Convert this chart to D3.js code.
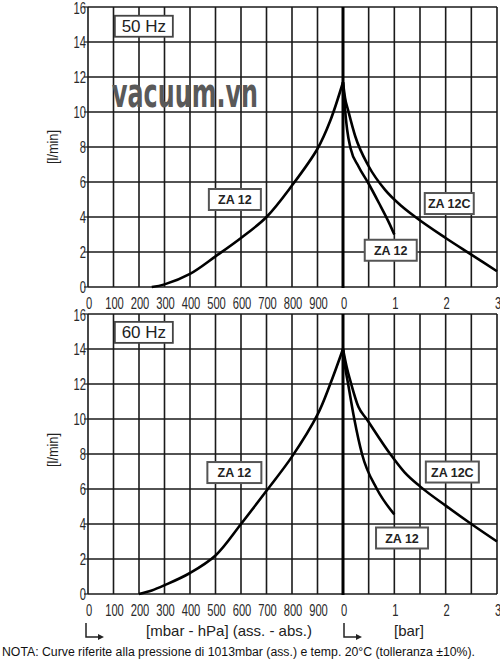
<!DOCTYPE html>
<html><head><meta charset="utf-8">
<script src="https://cdn.jsdelivr.net/npm/d3@7"></script>
<style>body{margin:0;background:#fff}svg{display:block}</style>
</head><body><svg id="c" width="500" height="660"></svg>
<script>
// ---------- data ----------
const vacTicks = [0,100,200,300,400,500,600,700,800,900];
const vacGrid  = [100,200,300,400,500,600,700,800,900];
const barTicks = [0,1,2,3];
const barGrid  = [0.5,1,1.5,2,2.5,3];
const yTicks   = [0,2,4,6,8,10,12,14,16];
const freqLabels = ["50 Hz","60 Hz"];
const seriesNames = ["ZA 12","ZA 12C"];

// 50 Hz : vacuum side [mbar abs, l/min], pressure side [bar, l/min]
const za12Vac50  = [[250,0],[300,0.15],[400,0.75],[500,1.75],[600,2.8],[700,4.0],[800,5.8],[900,7.9],[950,9.5],[1000,11.7]];
const za12Pres50 = [[0,11.7],[0.03,10.5],[0.08,9.0],[0.15,7.9],[0.3,6.9],[0.5,5.9],[0.7,4.8],[0.9,3.65],[1,3.0]];
const za12cPres50= [[0,11.7],[0.04,10.8],[0.1,10.1],[0.24,8.6],[0.5,6.9],[0.82,5.55],[1.15,4.6],[1.41,4.0],[2,2.8],[2.5,1.85],[3,0.9]];
// 60 Hz
const za12Vac60  = [[200,0],[250,0.2],[300,0.5],[400,1.2],[500,2.2],[600,4.0],[700,5.9],[800,7.85],[900,10.25],[950,12.0],[1000,14.0]];
const za12Pres60 = [[0,14],[0.04,13],[0.1,12],[0.22,10],[0.37,8],[0.66,6],[1,4.55]];
const za12cPres60= [[0,14],[0.07,13],[0.16,12],[0.3,10.7],[0.46,10],[0.92,8],[1.2,6.95],[1.5,6.15],[2,5.05],[2.5,4.0],[3,3.0]];

const xAxisTitle = "[mbar - hPa] (ass. - abs.)";
const barTitle = "[bar]";
const yTitle = "[l/min]";
const note = "NOTA:  Curve riferite alla pressione di 1013mbar (ass.) e temp. 20°C (tolleranza ±10%).";
const watermark = "vacuum.vn";

// ---------- layout ----------
const svg = d3.select("#c");
const L = 88, M = 343, R = 497;
const xVac = d3.scaleLinear().domain([0,1000]).range([L,M]);
const xBar = d3.scaleLinear().domain([0,3]).range([M,R]);
const sans = "'Liberation Sans',Arial,sans-serif";

function narrowText(g, x, y, txt, anchor, size, rot){
  return g.append("text")
    .attr("transform",`translate(${x},${y}) rotate(${rot||0}) scale(0.7,1)`)
    .attr("dy","0.36em").attr("text-anchor",anchor)
    .attr("font-family",sans).attr("font-size",size).attr("fill","#2a2a2a").text(txt);
}

const panels = [
  {top:7, bottom:287, freq:freqLabels[0], vac:za12Vac50, pres:[za12Pres50, za12cPres50],
   hz:[219,14.9], lab:[{t:seriesNames[0],side:"v",x:576,y:5.0,w:52},{t:seriesNames[1],side:"b",x:2.07,y:4.77,w:49},{t:seriesNames[0],side:"b",x:0.93,y:2.1,w:52}],
   ytitleY:147},
  {top:314, bottom:594, freq:freqLabels[1], vac:za12Vac60, pres:[za12Pres60, za12cPres60],
   hz:[219,14.95], lab:[{t:seriesNames[0],side:"v",x:574,y:6.94,w:54},{t:seriesNames[1],side:"b",x:2.13,y:6.97,w:53},{t:seriesNames[0],side:"b",x:1.15,y:3.2,w:52}],
   ytitleY:450}
];

panels.forEach((p,i)=>{
  const y = d3.scaleLinear().domain([0,16]).range([p.bottom,p.top]);
  const g = svg.append("g");
  // grid
  g.selectAll(".hg").data(yTicks).join("line")
    .attr("x1",L).attr("x2",R).attr("y1",d=>y(d)).attr("y2",d=>y(d))
    .attr("stroke","#1a1a1a").attr("stroke-width",1.6);
  g.selectAll(".vg").data(vacGrid).join("line")
    .attr("x1",d=>xVac(d)).attr("x2",d=>xVac(d)).attr("y1",y(0)).attr("y2",y(16))
    .attr("stroke","#1a1a1a").attr("stroke-width",1.6);
  g.selectAll(".bg").data(barGrid).join("line")
    .attr("x1",d=>xBar(d)).attr("x2",d=>xBar(d)).attr("y1",y(0)).attr("y2",y(16))
    .attr("stroke","#1a1a1a").attr("stroke-width",1.6);
  g.append("line").attr("x1",L).attr("x2",L).attr("y1",y(0)).attr("y2",y(16))
    .attr("stroke","#1a1a1a").attr("stroke-width",1.6);
  // center thick line
  g.append("line").attr("x1",xBar(0)).attr("x2",xBar(0)).attr("y1",y(0)+1).attr("y2",y(16))
    .attr("stroke","#000").attr("stroke-width",3);
  // ticks
  g.selectAll(".yt").data(yTicks).join("line")
    .attr("x1",L-4).attr("x2",L).attr("y1",d=>y(d)).attr("y2",d=>y(d))
    .attr("stroke","#1a1a1a").attr("stroke-width",1.2);
  yTicks.forEach(d=>narrowText(g, L-2, y(d)+(d===16?1.5:0), d, "end", 16));
  vacTicks.forEach(d=>narrowText(g, xVac(d)+1, y(0)+16, d, "middle", 16));
  barTicks.forEach(d=>narrowText(g, xBar(d)+1, y(0)+16, d, "middle", 16));
  // y title
  g.append("text").attr("transform",`translate(${53},${p.ytitleY}) rotate(-90) scale(0.85,1)`)
    .attr("dy","0.36em").attr("text-anchor","middle").attr("font-family",sans).attr("font-size",15)
    .attr("fill","#222").text(yTitle);
  // curves
  const lineV = d3.line().x(d=>xVac(d[0])).y(d=>y(d[1])).curve(d3.curveCatmullRom.alpha(0.5));
  const lineB = d3.line().x(d=>xBar(d[0])).y(d=>y(d[1])).curve(d3.curveMonotoneX);
  g.append("path").attr("d",lineV(p.vac)).attr("fill","none").attr("stroke","#000").attr("stroke-width",2.6);
  p.pres.forEach(s=>g.append("path").attr("d",lineB(s)).attr("fill","none").attr("stroke","#000").attr("stroke-width",2.6));
  // Hz box
  const hx = xVac(p.hz[0]), hy = y(p.hz[1]);
  g.append("rect").attr("x",hx-29).attr("y",hy-10.5).attr("width",58).attr("height",21)
    .attr("fill","#fff").attr("stroke","#444").attr("stroke-width",1.8);
  g.append("text").attr("x",hx).attr("y",hy).attr("dy","0.36em").attr("text-anchor","middle")
    .attr("font-family",sans).attr("font-size",17).attr("fill","#222").text(p.freq);
  // series labels
  p.lab.forEach(l=>{
    const cx = l.side==="v" ? xVac(l.x) : xBar(l.x), cy = y(l.y);
    g.append("rect").attr("x",cx-l.w/2).attr("y",cy-10.5).attr("width",l.w).attr("height",21)
      .attr("fill","#fff").attr("stroke","#555").attr("stroke-width",2);
    g.append("text").attr("x",cx).attr("y",cy).attr("dy","0.36em").attr("text-anchor","middle")
      .attr("font-family",sans).attr("font-weight","bold").attr("font-size",12.5).attr("fill","#222").text(l.t);
  });
});

// watermark
svg.append("text").attr("x",112).attr("y",107).attr("textLength",146).attr("lengthAdjust","spacingAndGlyphs")
  .attr("font-family","'DejaVu Sans Condensed','DejaVu Sans',sans-serif").attr("font-weight","bold")
  .attr("font-size",40).attr("fill","#595959").text(watermark);

// bottom axis titles
svg.append("text").attr("x",229).attr("y",636).attr("text-anchor","middle")
  .attr("font-family",sans).attr("font-size",15).attr("fill","#222").text(xAxisTitle);
svg.append("text").attr("x",409).attr("y",636).attr("text-anchor","middle")
  .attr("font-family",sans).attr("font-size",15).attr("fill","#222").text(barTitle);
// L arrows
[xVac(0)-2, xBar(0)+1].forEach(x0=>{
  svg.append("path").attr("d",`M${x0},623V637H${x0+13}`).attr("fill","none").attr("stroke","#222").attr("stroke-width",1.5);
  svg.append("path").attr("d",`M${x0+12},634L${x0+18},637L${x0+12},640Z`).attr("fill","#222");
});
// note
svg.append("text").attr("x",2).attr("y",656).attr("textLength",473).attr("lengthAdjust","spacingAndGlyphs")
  .attr("font-family",sans).attr("font-size",12).attr("fill","#111").text(note);
</script></body></html>
